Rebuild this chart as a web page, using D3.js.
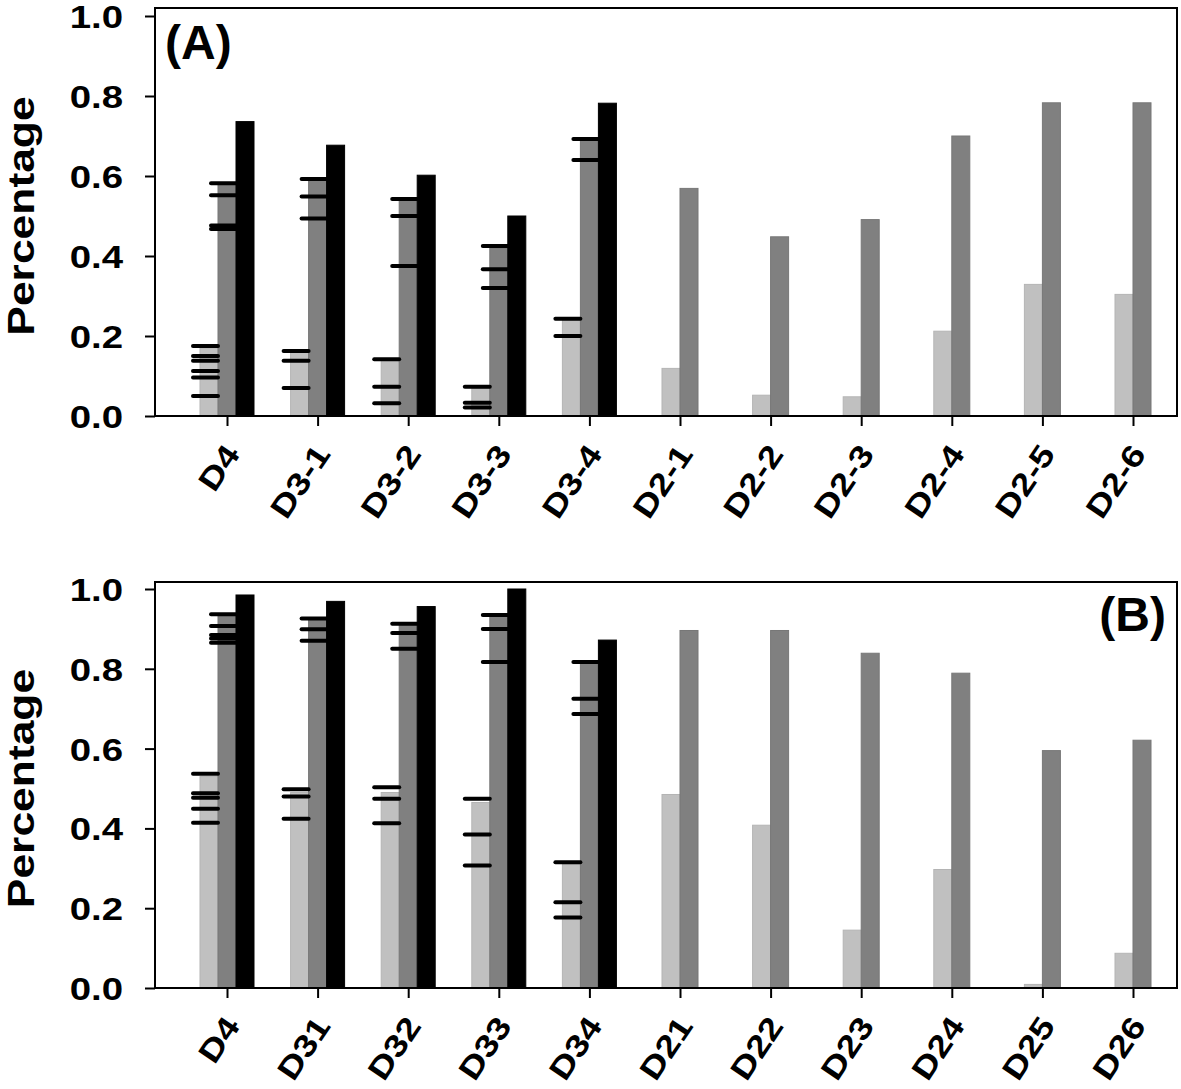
<!DOCTYPE html>
<html>
<head>
<meta charset="utf-8">
<script src="https://cdn.jsdelivr.net/npm/d3@7"></script>
<style>
  body { margin: 0; background: #fff; }
  text { font-family: "Liberation Sans", Arial, sans-serif; font-weight: bold; }
</style>
</head>
<body>
<svg width="1181" height="1089"></svg>
<script>
// data, panel A

const catsA = ["D4", "D3-1", "D3-2", "D3-3", "D3-4", "D2-1", "D2-2", "D2-3", "D2-4", "D2-5", "D2-6"];
const lightA = [0.17, 0.16, 0.14, 0.07, 0.24, 0.119, 0.052, 0.048, 0.212, 0.329, 0.304];
const midA = [0.58, 0.59, 0.54, 0.42, 0.69, 0.569, 0.448, 0.491, 0.70, 0.783, 0.783];
const darkA = [0.736, 0.677, 0.602, 0.50, 0.782];
const repLightA = [[0.175, 0.15, 0.138, 0.1125, 0.096, 0.05], [0.1625, 0.138, 0.07], [0.142, 0.073, 0.032], [0.073, 0.033, 0.021], [0.243, 0.2]];
const repMidA = [[0.582, 0.552, 0.476, 0.4675], [0.5925, 0.549, 0.494], [0.5425, 0.5, 0.375], [0.425, 0.367, 0.32], [0.6925, 0.64]];

// data, panel B

const catsB = ["D4", "D31", "D32", "D33", "D34", "D21", "D22", "D23", "D24", "D25", "D26"];
const lightB = [0.53, 0.49, 0.49, 0.465, 0.31, 0.485, 0.408, 0.145, 0.297, 0.009, 0.087];
const midB = [0.935, 0.924, 0.91, 0.932, 0.814, 0.896, 0.896, 0.839, 0.789, 0.595, 0.621];
const darkB = [0.985, 0.969, 0.956, 1.0, 0.872];
const repLightB = [[0.537, 0.488, 0.477, 0.449, 0.414], [0.498, 0.48, 0.424], [0.503, 0.474, 0.413], [0.474, 0.385, 0.307], [0.315, 0.215, 0.177]];
const repMidB = [[0.937, 0.907, 0.885, 0.876, 0.865], [0.926, 0.899, 0.87], [0.913, 0.89, 0.85], [0.935, 0.9, 0.817], [0.817, 0.725, 0.687]];

const yTicks = [0, 0.2, 0.4, 0.6, 0.8, 1.0];

const colors = { light: "#c0c0c0", mid: "#808080", dark: "#000000" };
const strokes = { light: "#b4b4b4", mid: "#777777", dark: "#000000" };
const barW = 18;
const stretch = "scale(1.2,1)";

const svg = d3.select("svg");

function drawPanel(p) {
  const g = svg.append("g");

  const x = d3.scalePoint()
              .domain(p.cats)
              .range([227, 1133]);

  const y = d3.scaleLinear()
              .domain([0, 1])
              .range([p.bottom, p.top]);

  // bar offsets: three bars centred on the tick, or two bars split on it
  const offset = (i, key) => {
    if (i < p.dark.length) return { light: -27, mid: -9, dark: 9 }[key];
    return { light: -18, mid: 0 }[key];
  };

  const bars = [];
  p.cats.forEach((c, i) => {
    bars.push({ cat: c, i, key: "light", value: p.light[i] });
    bars.push({ cat: c, i, key: "mid", value: p.mid[i] });
    if (i < p.dark.length) bars.push({ cat: c, i, key: "dark", value: p.dark[i] });
  });

  g.selectAll(".bar")
   .data(bars)
   .enter()
   .append("rect")
   .attr("class", "bar")
   .attr("x", d => x(d.cat) + offset(d.i, d.key))
   .attr("y", d => y(d.value))
   .attr("width", barW)
   .attr("height", d => y(0) - y(d.value))
   .attr("fill", d => colors[d.key])
   .attr("stroke", d => strokes[d.key])
   .attr("stroke-width", 1);

  // replicate marks on the light and mid bars
  const reps = [];
  p.repLight.forEach((vals, i) => vals.forEach(v => reps.push({ cat: p.cats[i], i, key: "light", value: v })));
  p.repMid.forEach((vals, i) => vals.forEach(v => reps.push({ cat: p.cats[i], i, key: "mid", value: v })));

  g.selectAll(".rep")
   .data(reps)
   .enter()
   .append("line")
   .attr("class", "rep")
   .attr("x1", d => x(d.cat) + offset(d.i, d.key) - 7)
   .attr("x2", d => x(d.cat) + offset(d.i, d.key) + barW)
   .attr("y1", d => y(d.value))
   .attr("y2", d => y(d.value))
   .attr("stroke", "#000")
   .attr("stroke-width", 4)
   .attr("stroke-linecap", "round");

  // frame
  g.append("rect")
   .attr("x", 155)
   .attr("y", p.frameTop)
   .attr("width", 1022)
   .attr("height", p.bottom - p.frameTop)
   .attr("fill", "none")
   .attr("stroke", "#000")
   .attr("stroke-width", 2);

  // y axis
  const ya = g.append("g")
              .attr("transform", "translate(155,0)")
              .call(d3.axisLeft(y).tickValues(yTicks).tickFormat(d3.format(".1f")).tickSize(10));
  ya.select(".domain").remove();
  ya.selectAll("line").attr("stroke-width", 2);
  ya.selectAll("text")
    .attr("x", null)
    .attr("dy", "0.36em")
    .attr("transform", "translate(-32,0) " + stretch)
    .attr("font-size", 32)
    .attr("fill", "#000");

  // x axis
  const xa = g.append("g")
              .attr("transform", `translate(0,${p.bottom})`)
              .call(d3.axisBottom(x).tickSize(10).tickFormat(""));
  xa.select(".domain").remove();
  xa.selectAll("line").attr("stroke-width", 2);

  g.selectAll(".xlab")
   .data(p.cats)
   .enter()
   .append("text")
   .attr("class", "xlab")
   .attr("text-anchor", "end")
   .attr("font-size", 31)
   .attr("transform", d => `translate(${x(d) + 14},${p.bottom + 38}) rotate(-56) ${stretch}`)
   .text(d => d);

  // axis title
  g.append("text")
   .attr("text-anchor", "middle")
   .attr("font-size", 37)
   .attr("transform", `translate(34,${(p.top + p.bottom) / 2}) rotate(-90) ${stretch}`)
   .text("Percentage");

  // panel letter
  g.append("text")
   .attr("x", p.labelX)
   .attr("y", p.labelY)
   .attr("text-anchor", p.labelAnchor)
   .attr("font-size", 48)
   .text(p.label);
}

drawPanel({
  cats: catsA, light: lightA, mid: midA, dark: darkA,
  repLight: repLightA, repMid: repMidA,
  top: 16, bottom: 416, frameTop: 8,
  label: "(A)", labelX: 165, labelY: 59, labelAnchor: "start"
});

drawPanel({
  cats: catsB, light: lightB, mid: midB, dark: darkB,
  repLight: repLightB, repMid: repMidB,
  top: 589, bottom: 988, frameTop: 582,
  label: "(B)", labelX: 1166, labelY: 631, labelAnchor: "end"
});
</script>
</body>
</html>
